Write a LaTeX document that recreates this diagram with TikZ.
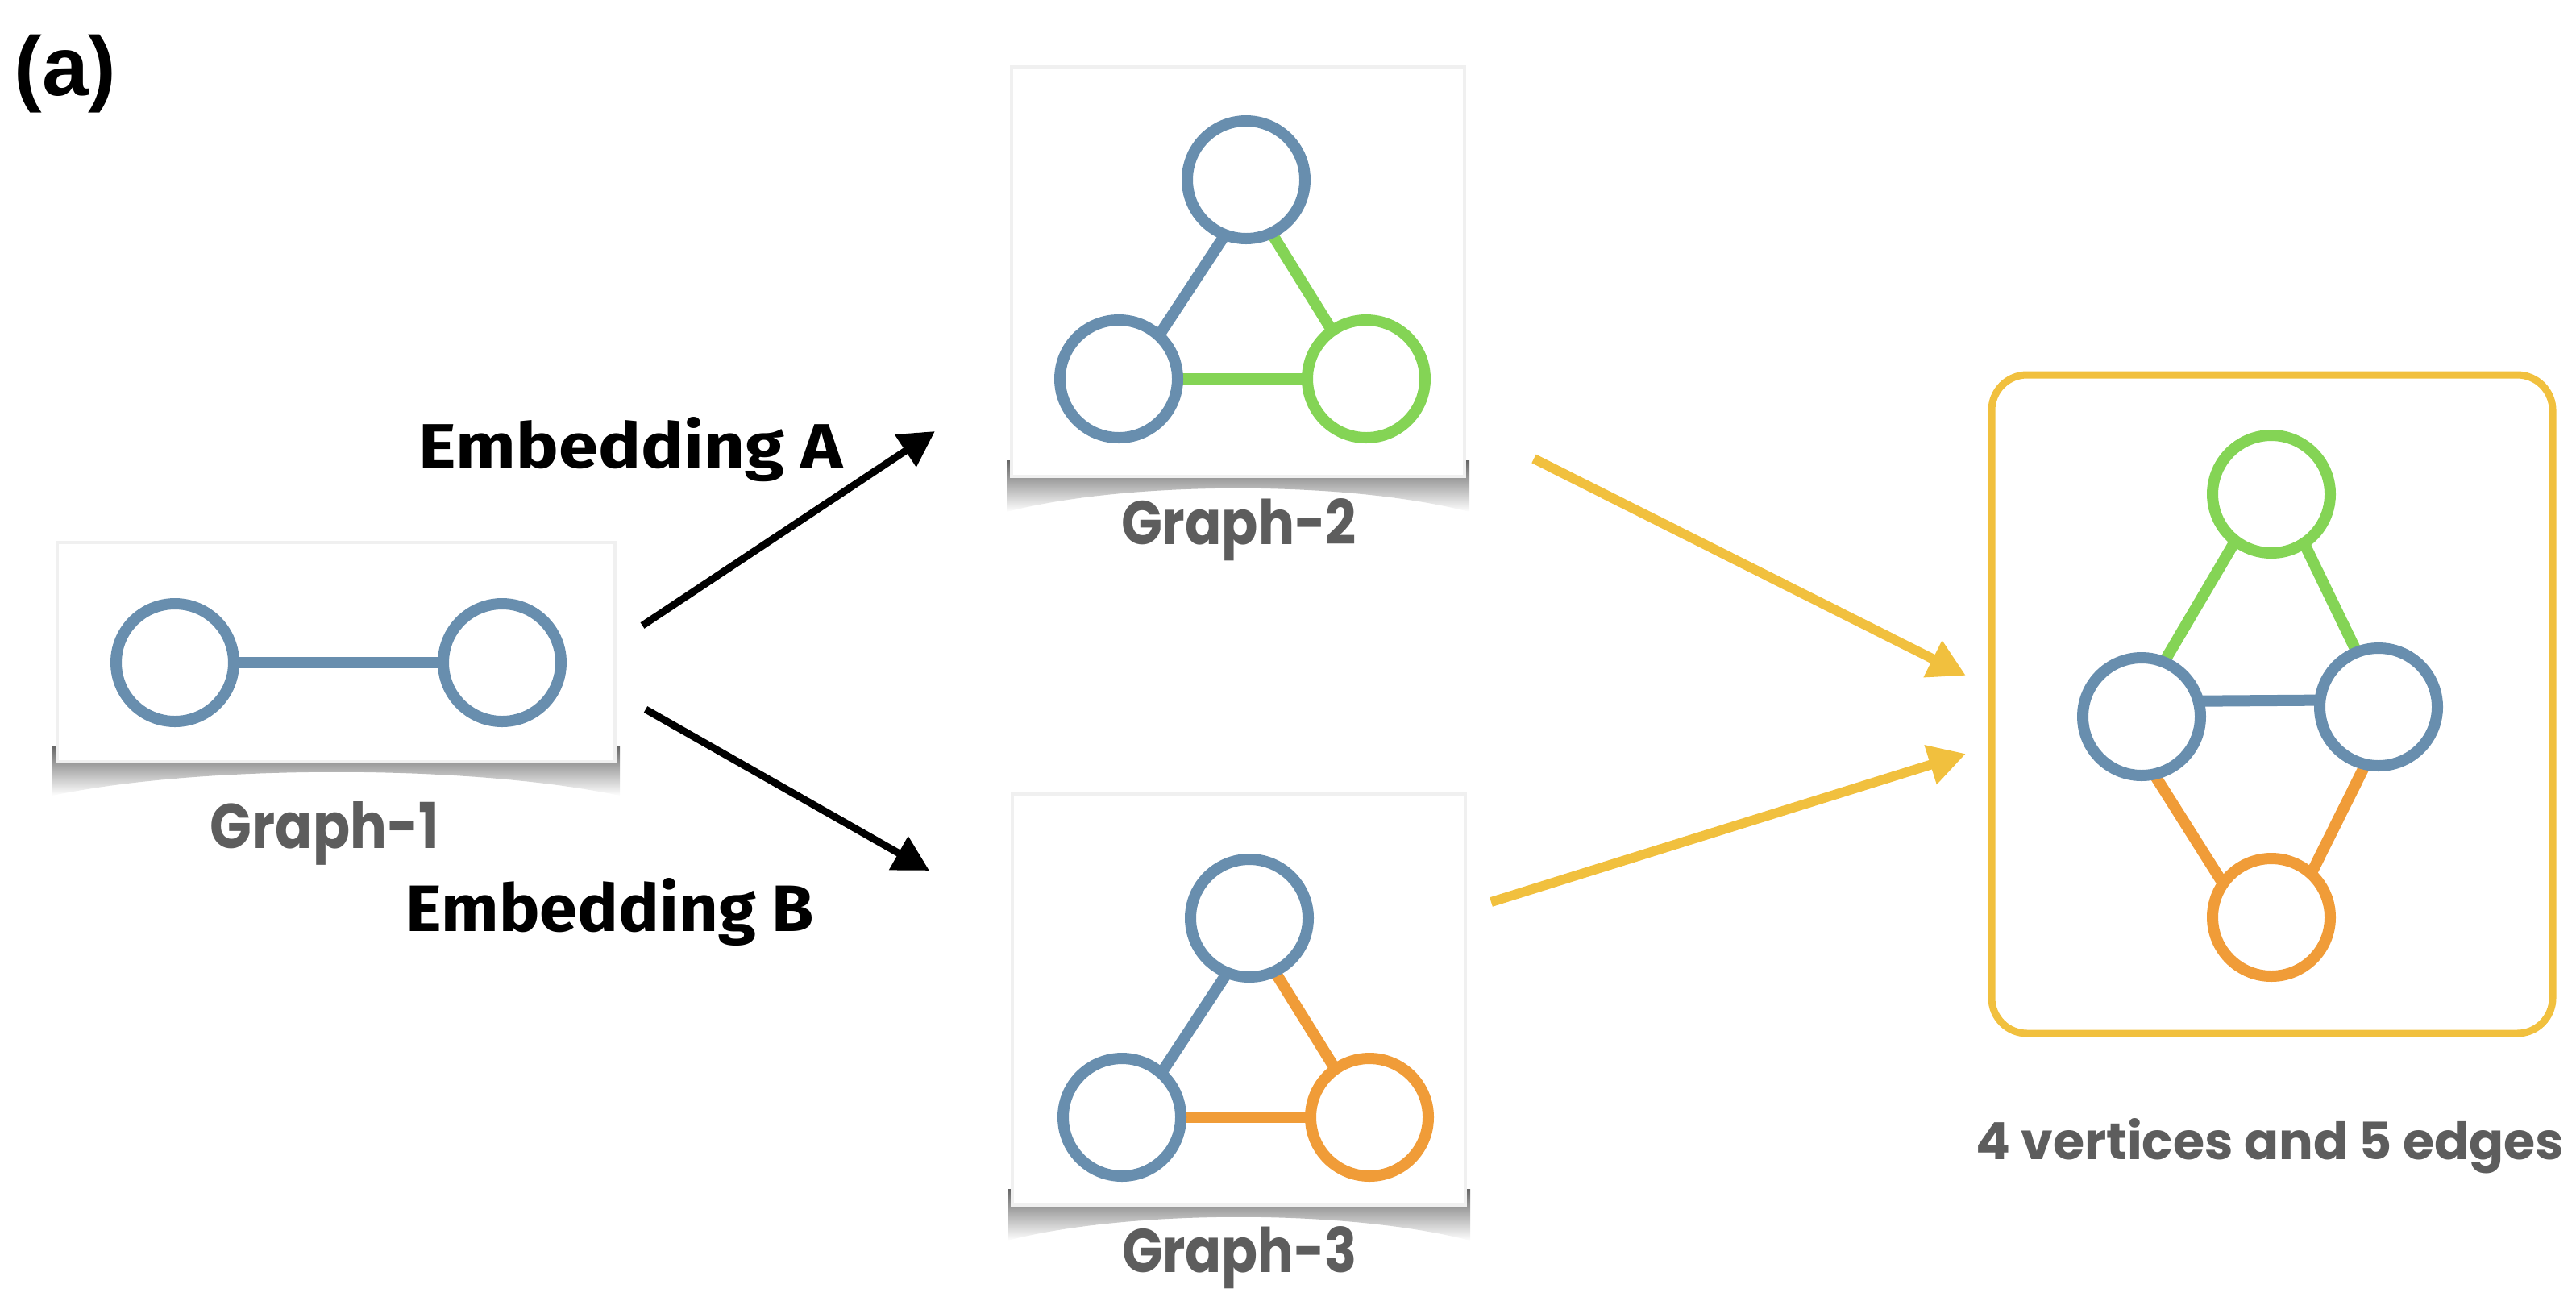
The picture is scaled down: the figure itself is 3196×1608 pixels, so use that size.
\documentclass[tikz,border=0pt]{standalone}
\usepackage{fontspec}
\usepackage{graphicx}
\setmainfont{Liberation Sans}
\newfontfamily\glabel{Poppins}
\newfontfamily\hand{Fira Sans}
\usetikzlibrary{arrows.meta}
\definecolor{gblue}{RGB}{104,142,174}
\definecolor{ggreen}{RGB}{132,212,85}
\definecolor{gorange}{RGB}{240,156,56}
\definecolor{gyellow}{RGB}{241,192,62}
\definecolor{tgray}{RGB}{93,93,93}
\pgfdeclarelayer{boxlayer}
\pgfdeclarelayer{edgelayer}
\pgfsetlayers{boxlayer,edgelayer,main}
\begin{document}
\begin{tikzpicture}[x=0.5pt,y=-0.5pt,
  vtx/.style={circle, draw, line width=7pt, fill=white, minimum size=73pt, inner sep=0pt},
  gedge/.style={line width=7pt, shorten <=-5pt, shorten >=-5pt},
  card/.style={fill=white, draw=black!6, line width=2pt, inner sep=0pt},
  glab/.style={font=\glabel\bfseries\fontsize{40}{44}\selectfont, text=tgray, anchor=base, inner sep=0pt},
  hlab/.style={font=\hand\bfseries\fontsize{35}{40}\selectfont, text=black, anchor=base, inner sep=0pt},
  embarrow/.style={line width=4.5pt, black, -{Triangle[length=22pt,width=23pt]}},
  mergearrow/.style={line width=6pt, gyellow, -{Triangle[length=23pt,width=24pt]}},
  cardshadow/.style={top color=black!60, bottom color=white}
]
\useasboundingbox (0,0) rectangle (3196,1608);

% ---------- cards with shadows ----------
\begin{pgfonlayer}{boxlayer}
  \shade[cardshadow]
    (65,925) -- (65,987) .. controls (250,948) and (584,948) .. (769,987) -- (769,925) -- cycle;
  \shade[cardshadow]
    (1249,571) -- (1249,635) .. controls (1400,596) and (1672,596) .. (1823,635) -- (1823,571) -- cycle;
  \shade[cardshadow]
    (1250,1475) -- (1250,1539) .. controls (1401,1500) and (1673,1500) .. (1824,1539) -- (1824,1475) -- cycle;
  \node[card, minimum width=346pt, minimum height=136pt] (card1) at (417,809) {};
  \node[card, minimum width=281pt, minimum height=254pt] (card2) at (1536,337) {};
  \node[card, minimum width=281pt, minimum height=255pt] (card3) at (1537,1240) {};
\end{pgfonlayer}

% ---------- merged box ----------
\node[draw=gyellow, line width=4.5pt, rounded corners=22pt, minimum width=348pt, minimum height=408.5pt, inner sep=0pt] (mbox) at (2819,873.5) {};

% ---------- Graph-1 ----------
\node[vtx, draw=gblue] (a1) at (217,822) {};
\node[vtx, draw=gblue] (a2) at (623,822) {};
\begin{pgfonlayer}{edgelayer}
  \draw[gedge, gblue] (a1) -- (a2);
\end{pgfonlayer}

% ---------- Graph-2 ----------
\node[vtx, draw=gblue] (t2) at (1546,223) {};
\node[vtx, draw=gblue] (l2) at (1388,470) {};
\node[vtx, draw=ggreen] (r2) at (1695,470) {};
\begin{pgfonlayer}{edgelayer}
  \draw[gedge, gblue] (t2.248) -- (l2.48);
  \draw[gedge, ggreen] (t2.296) -- (r2.125);
  \draw[gedge, ggreen] (l2.east) -- (r2.west);
\end{pgfonlayer}

% ---------- Graph-3 ----------
\node[vtx, draw=gblue] (t3) at (1550,1139) {};
\node[vtx, draw=gblue] (l3) at (1392,1386) {};
\node[vtx, draw=gorange] (r3) at (1699,1386) {};
\begin{pgfonlayer}{edgelayer}
  \draw[gedge, gblue] (t3.247) -- (l3.49);
  \draw[gedge, gorange] (t3.296) -- (r3.125);
  \draw[gedge, gorange] (l3.east) -- (r3.west);
\end{pgfonlayer}

% ---------- merged graph ----------
\node[vtx, draw=ggreen] (c1) at (2818,613) {};
\node[vtx, draw=gblue] (c2) at (2657,889) {};
\node[vtx, draw=gblue] (c3) at (2951,877) {};
\node[vtx, draw=gorange] (c4) at (2818,1138) {};
\begin{pgfonlayer}{edgelayer}
  \draw[gedge, ggreen] (c1.233) -- (c2.67);
  \draw[gedge, ggreen] (c1.303) -- (c3.112);
  \draw[gedge, gblue] (c2.14) -- (c3.174);
  \draw[gedge, gorange] (c2.284) -- (c4.143);
  \draw[gedge, gorange] (c3.256) -- (c4.49);
\end{pgfonlayer}

% ---------- labels ----------
\node[anchor=base west, inner sep=0pt, font=\bfseries\fontsize{52}{56}\selectfont] (tag) at (17,118) {(a)};
\node[glab] (g1lab) at (403,1052) {\resizebox{142pt}{29pt}{Graph-1}};
\node[glab] (g2lab) at (1537,675) {\resizebox{146pt}{28.5pt}{Graph-2}};
\node[glab] (g3lab) at (1538,1578) {\resizebox{146pt}{28.5pt}{Graph-3}};
\node[glab] (mlab) at (2816,1438) {\resizebox{365pt}{25.5pt}{4 vertices and 5 edges}};
\node[hlab] (ea) at (783,580) {\resizebox{263pt}{31.5pt}{Embedding A}};
\node[hlab] (eb) at (757,1155) {\resizebox{253pt}{33pt}{Embedding B}};

% ---------- arrows ----------
\coordinate (eaS) at (797,776);
\coordinate (eaE) at (1160,535);
\coordinate (ebS) at (801,880);
\coordinate (ebE) at (1153,1080);
\coordinate (yaS) at (1903,569);
\coordinate (yaE) at (2439,838);
\coordinate (ybS) at (1850,1119);
\coordinate (ybE) at (2439,935);
\draw[embarrow] (eaS) -- (eaE);
\draw[embarrow] (ebS) -- (ebE);
\draw[mergearrow] (yaS) -- (yaE);
\draw[mergearrow] (ybS) -- (ybE);
\end{tikzpicture}
\end{document}
